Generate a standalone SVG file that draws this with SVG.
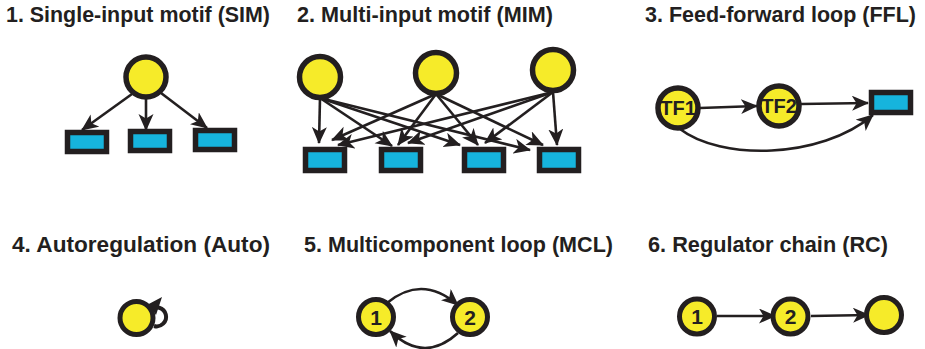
<svg xmlns="http://www.w3.org/2000/svg" width="925" height="349" viewBox="0 0 925 349">
<defs>
<marker id="ah" markerUnits="userSpaceOnUse" markerWidth="19" markerHeight="16" refX="16" refY="7.5" orient="auto" viewBox="0 0 19 16">
<path d="M0,0 L17,7.5 L0,15 L4.5,7.5 z" fill="#231f20"/>
</marker>
<style>
.t{font-family:"Liberation Sans",Arial,sans-serif;font-weight:bold;font-size:21.6px;fill:#231f20}
.n{font-family:"Liberation Sans",Arial,sans-serif;font-weight:bold;fill:#231f20;text-anchor:middle}
.c{fill:#f6eb29;stroke:#231f20;stroke-width:5.5}
.cs{fill:#f6eb29;stroke:#231f20;stroke-width:5}
.r{fill:#16b4dd;stroke:#231f20;stroke-width:5.5}
.e{fill:none;stroke:#231f20;stroke-width:2.6;marker-end:url(#ah)}
</style>
</defs>
<rect width="925" height="349" fill="#ffffff"/>
<g id="titles">
<text class="t" x="6" y="22" textLength="264" lengthAdjust="spacingAndGlyphs">1. Single-input motif (SIM)</text>
<text class="t" x="297" y="22" textLength="256" lengthAdjust="spacingAndGlyphs">2. Multi-input motif (MIM)</text>
<text class="t" x="645" y="22" textLength="271" lengthAdjust="spacingAndGlyphs">3. Feed-forward loop (FFL)</text>
<text class="t" x="12" y="252" textLength="258" lengthAdjust="spacingAndGlyphs">4. Autoregulation (Auto)</text>
<text class="t" x="304" y="252" textLength="309" lengthAdjust="spacingAndGlyphs">5. Multicomponent loop (MCL)</text>
<text class="t" x="648" y="252" textLength="240" lengthAdjust="spacingAndGlyphs">6. Regulator chain (RC)</text>
</g>
<g id="connectors">
<path class="e" d="M132,94 L82,130"/>
<path class="e" d="M146,99 L146,130"/>
<path class="e" d="M161,93 L207,128"/>
<path class="e" d="M320,98 L319,143"/>
<path class="e" d="M436,94 L332,140"/>
<path class="e" d="M553,92 L338,145"/>
<path class="e" d="M320,98 L392,146"/>
<path class="e" d="M436,94 L398,145"/>
<path class="e" d="M553,92 L408,143"/>
<path class="e" d="M320,98 L460,145"/>
<path class="e" d="M436,94 L478,145"/>
<path class="e" d="M553,92 L485,143"/>
<path class="e" d="M320,98 L530,150"/>
<path class="e" d="M436,94 L543,145"/>
<path class="e" d="M553,92 L557,145"/>
<path class="e" d="M700,108 L757,106"/>
<path class="e" d="M801,104 L868,103"/>
<path class="e" d="M680,129 C720,160 820,160 873,115"/>
<path d="M150,310 A9.5,9.5 0 1 1 154,326" fill="none" stroke="#231f20" stroke-width="4"/>
<polygon points="162,297 145,306 151,308 156,315" fill="#231f20"/>
<path class="e" d="M387,303 Q422,274 458,305"/>
<path class="e" d="M458,333 Q424,364 390,331"/>
<path class="e" d="M717,316 L775,316"/>
<path class="e" d="M811,316 L869,315"/>
</g>
<g id="sim-tf"><circle class="c" cx="146" cy="77" r="20"/></g>
<g id="sim-g1"><rect class="r" x="67.5" y="132.5" width="39" height="19"/></g>
<g id="sim-g2"><rect class="r" x="130.5" y="131.5" width="39" height="19"/></g>
<g id="sim-g3"><rect class="r" x="195.5" y="130.5" width="39" height="19"/></g>
<g id="mim-tf1"><circle class="c" cx="320" cy="77" r="20.5"/></g>
<g id="mim-tf2"><circle class="c" cx="436" cy="73" r="20.5"/></g>
<g id="mim-tf3"><circle class="c" cx="553" cy="70" r="20.5"/></g>
<g id="mim-g1"><rect class="r" x="305.5" y="149.5" width="39" height="21"/></g>
<g id="mim-g2"><rect class="r" x="381.5" y="149.5" width="39" height="21"/></g>
<g id="mim-g3"><rect class="r" x="464.5" y="149.5" width="39" height="21"/></g>
<g id="mim-g4"><rect class="r" x="539.5" y="149.5" width="39" height="21"/></g>
<g id="ffl-tf1"><circle class="c" cx="678" cy="108" r="20"/><text class="n" x="678" y="115" font-size="20">TF1</text></g>
<g id="ffl-tf2"><circle class="c" cx="779" cy="106" r="20"/><text class="n" x="779" y="113" font-size="20">TF2</text></g>
<g id="ffl-g"><rect class="r" x="871.5" y="92.5" width="39" height="20"/></g>
<g id="auto"><circle class="cs" cx="136.5" cy="318" r="16.5"/></g>
<g id="mcl-1"><circle class="cs" cx="376" cy="317" r="17.5"/><text class="n" x="376" y="324.5" font-size="21">1</text></g>
<g id="mcl-2"><circle class="cs" cx="470" cy="317" r="17.5"/><text class="n" x="470" y="324.5" font-size="21">2</text></g>
<g id="rc-1"><circle class="cs" cx="697" cy="316.5" r="17.5"/><text class="n" x="697" y="324" font-size="21">1</text></g>
<g id="rc-2"><circle class="cs" cx="790.5" cy="316.5" r="17.5"/><text class="n" x="790.5" y="324" font-size="21">2</text></g>
<g id="rc-3"><circle class="cs" cx="884" cy="315" r="17.5"/></g>
</svg>
